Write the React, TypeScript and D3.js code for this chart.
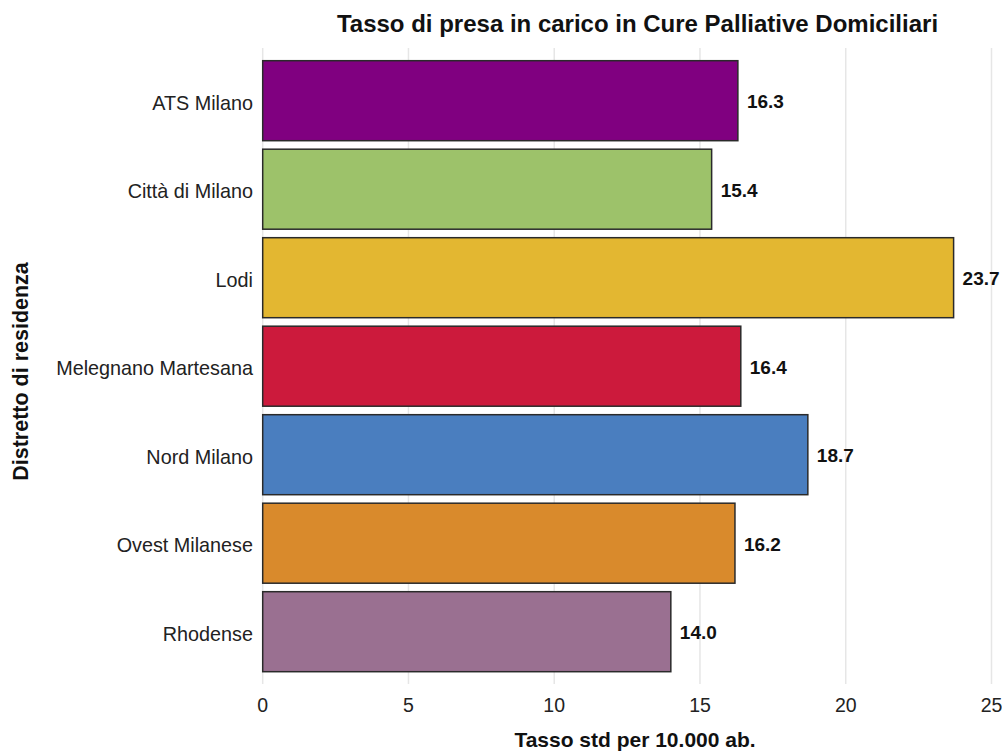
import React from "react";
import * as d3 from "d3";

const categories = [
  "ATS Milano",
  "Città di Milano",
  "Lodi",
  "Melegnano Martesana",
  "Nord Milano",
  "Ovest Milanese",
  "Rhodense",
];
const values = [16.3, 15.4, 23.7, 16.4, 18.7, 16.2, 14.0];
const colors = ["#800080", "#9dc26a", "#e3b731", "#cc1a3c", "#4a7ebf", "#d98a2c", "#9a7091"];
const xTicks = [0, 5, 10, 15, 20, 25];

const title = "Tasso di presa in carico in Cure Palliative Domiciliari";
const xTitle = "Tasso std per 10.000 ab.";
const yTitle = "Distretto di residenza";

const W = 1002;
const H = 751;

export default function App() {
  const x = d3.scaleLinear().domain([0, 25]).range([262.7, 991.5]);
  const y = d3
    .scaleBand<string>()
    .domain(categories)
    .range([56.45, 675.95])
    .paddingInner(0.096)
    .paddingOuter(0.048);

  const sans = "'Liberation Sans', Arial, sans-serif";

  return (
    <svg
      width={W}
      height={H}
      style={{ position: "absolute", left: 0, top: 0, background: "#fff" }}
    >
      <text
        x={637.5}
        y={32.3}
        textAnchor="middle"
        fontFamily={sans}
        fontWeight="bold"
        fontSize={24}
        fill="#111"
      >
        {title}
      </text>

      {xTicks.map((t) => (
        <line
          key={"g" + t}
          x1={x(t)}
          x2={x(t)}
          y1={48}
          y2={684}
          stroke="#e6e6e6"
          strokeWidth={1.5}
        />
      ))}

      {categories.map((c, i) => {
        const y0 = y(c)!;
        const bw = y.bandwidth();
        return (
          <g key={c}>
            <rect
              x={x(0)}
              y={y0}
              width={x(values[i]) - x(0)}
              height={bw}
              fill={colors[i]}
              stroke="#2a2a2a"
              strokeWidth={1.5}
            />
            <text
              x={x(values[i]) + 9}
              y={y0 + bw / 2 + 7.6}
              fontFamily={sans}
              fontWeight="bold"
              fontSize={19}
              fill="#111"
            >
              {values[i].toFixed(1)}
            </text>
            <text
              x={253}
              y={y0 + bw / 2 + 8.8}
              textAnchor="end"
              fontFamily={sans}
              fontSize={19.8}
              fill="#222"
            >
              {c}
            </text>
          </g>
        );
      })}

      {xTicks.map((t) => (
        <text
          key={"t" + t}
          x={x(t)}
          y={712.3}
          textAnchor="middle"
          fontFamily={sans}
          fontSize={19.5}
          fill="#222"
        >
          {t}
        </text>
      ))}

      <text
        x={635}
        y={746.7}
        textAnchor="middle"
        fontFamily={sans}
        fontWeight="bold"
        fontSize={21}
        fill="#111"
      >
        {xTitle}
      </text>

      <text
        transform={`translate(27.5,371.5) rotate(-90)`}
        textAnchor="middle"
        fontFamily={sans}
        fontWeight="bold"
        fontSize={21.5}
        fill="#111"
      >
        {yTitle}
      </text>
    </svg>
  );
}
